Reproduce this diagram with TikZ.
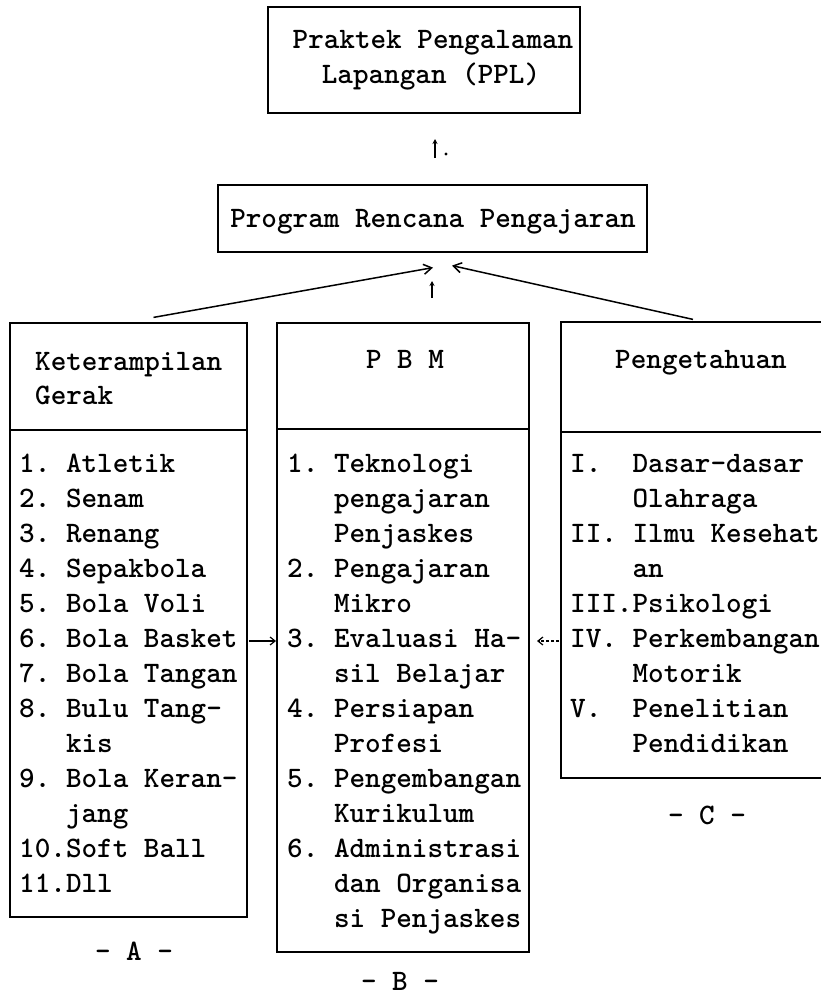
\documentclass[tikz,border=0pt]{standalone}
\usepackage{fontspec}
\usetikzlibrary{arrows.meta}
\begin{document}
\begin{tikzpicture}[x=1pt,y=-1pt,
  box/.style={draw, line width=1.2pt, inner sep=0pt},
  rule/.style={line width=1.2pt},
  ltext/.style={font=\ttfamily\bfseries\fontsize{29.7}{35}\selectfont, inner sep=0pt, anchor=base west},
  ctext/.style={font=\ttfamily\bfseries\fontsize{29.7}{35}\selectfont, inner sep=0pt, anchor=base},
  bigarrow/.style={line width=1.5pt, -{Straight Barb[length=8pt,width=10pt,line width=1.5pt]}},
  smallarrow/.style={line width=1.3pt, -{Stealth[length=5pt,width=5pt]}},
  sidearrow/.style={line width=1.2pt, -{Straight Barb[length=5pt,width=8pt]}}]
\useasboundingbox (0,0) rectangle (821,997);

% boxes
\node[box, minimum width=312pt, minimum height=106pt] (top) at (424,60) {};
\node[box, minimum width=429pt, minimum height=67pt] (mid) at (432.5,218.5) {};
\node[box, minimum width=237pt, minimum height=594pt] (A) at (128.5,620) {};
\node[box, minimum width=252pt, minimum height=629pt] (B) at (403,637.5) {};
\node[box, minimum width=262pt, minimum height=456pt] (C) at (692,550) {};

% dividers
\coordinate (dA) at (0,430);
\coordinate (dB) at (0,429);
\coordinate (dC) at (0,432);
\draw[rule] (A.west |- dA) -- (A.east |- dA);
\draw[rule] (B.west |- dB) -- (B.east |- dB);
\draw[rule] (C.west |- dC) -- (C.east |- dC);

% top texts
\node[ctext] (t1) at (433,48) {Praktek Pengalaman};
\node[ctext] (t2) at (431,83) {Lapangan (PPL)};
\node[ctext] (m1) at (433,227) {Program Rencana Pengajaran};

% headers
\node[ltext] (ha1) at (35,370) {Keterampilan};
\node[ltext] (ha2) at (35,404) {Gerak};
\node[ctext] (hb) at (405,368) {P B M};
\node[ctext] (hc) at (701,368) {Pengetahuan};

% lists
\foreach \lab/\txt [count=\i] in {1./Atletik, 2./Senam, 3./Renang, 4./Sepakbola, 5./Bola Voli, 6./Bola Basket, 7./Bola Tangan, 8./Bulu Tang-, /kis, 9./Bola Keran-, /jang, 10./Soft Ball, 11./Dll}{
  \node[ltext] (al\i) at (19,{472+35*(\i-1)}) {\lab};
  \node[ltext] (at\i) at (65.8,{472+35*(\i-1)}) {\txt};
}
\foreach \lab/\txt [count=\i] in {1./Teknologi, /pengajaran, /Penjaskes, 2./Pengajaran, /Mikro, 3./Evaluasi Ha-, /sil Belajar, 4./Persiapan, /Profesi, 5./Pengembangan, /Kurikulum, 6./Administrasi, /dan Organisa, /si Penjaskes}{
  \node[ltext] (bl\i) at (287,{472+35*(\i-1)}) {\lab};
  \node[ltext] (bt\i) at (333.8,{472+35*(\i-1)}) {\txt};
}
\foreach \lab/\txt [count=\i] in {I./Dasar-dasar, /Olahraga, II./Ilmu Kesehat, /an, III./Psikologi, IV./Perkembangan, /Motorik, V./Penelitian, /Pendidikan}{
  \node[ltext] (cl\i) at (570,{472+35*(\i-1)}) {\lab};
  \node[ltext] (ct\i) at (632.4,{472+35*(\i-1)}) {\txt};
}

% captions
\node[ctext] (la) at (134,960) {- A -};
\node[ctext] (lb) at (400,990) {- B -};
\node[ctext] (lc) at (707,824) {- C -};

% main arrows
\draw[bigarrow] ([xshift=25pt,yshift=5pt]A.north) -- ([xshift=0.5pt,yshift=-15pt]mid.south);
\draw[bigarrow] ([xshift=1pt,yshift=2pt]C.north) -- ([xshift=19.5pt,yshift=-13pt]mid.south);

% small up arrows
\coordinate (u1s) at (435,158);
\coordinate (u1e) at (435,139);
\draw[smallarrow] (u1s) -- (u1e);
\fill (446,154) circle (1.6pt);
\coordinate (u2s) at (432,298);
\coordinate (u2e) at (432,281);
\draw[smallarrow] (u2s) -- (u2e);

% side arrows
\coordinate (ab1) at (249,641);
\coordinate (ab2) at (276,641);
\draw[sidearrow] (ab1) -- (ab2);
\coordinate (cb1) at (559,641);
\coordinate (cb2) at (537,641);
\draw[sidearrow, dash pattern=on 3pt off 2pt] (cb1) -- (cb2);
\end{tikzpicture}
\end{document}
